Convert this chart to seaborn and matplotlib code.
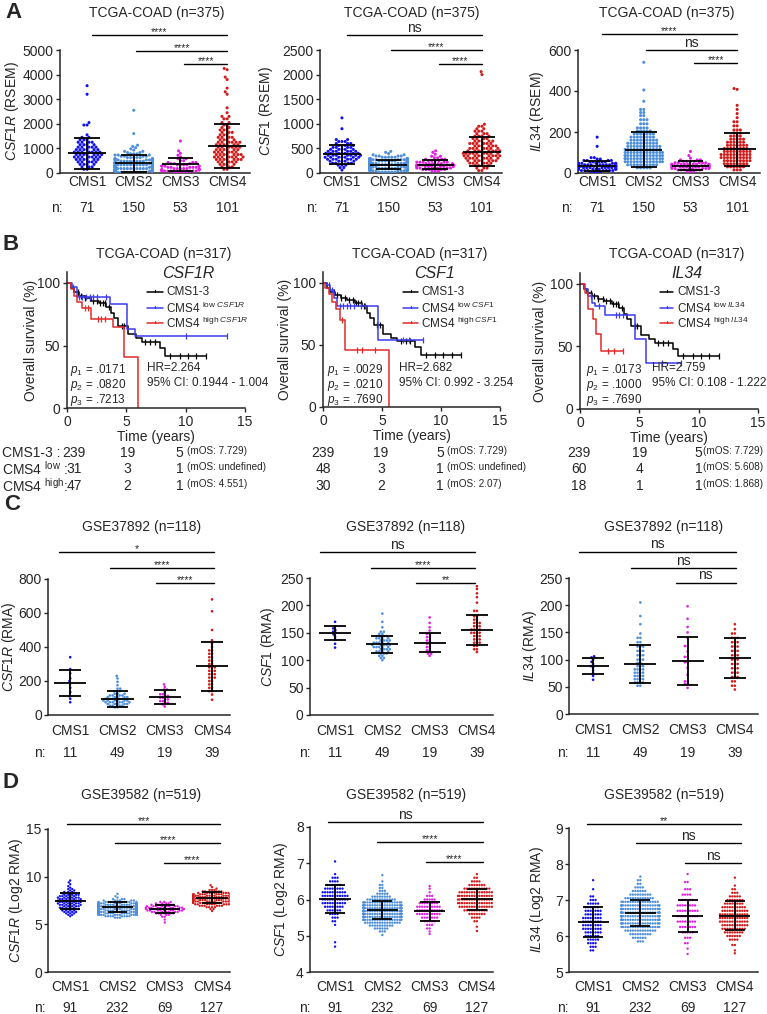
import warnings
import numpy as np
import pandas as pd
import seaborn as sns
import matplotlib.pyplot as plt
from matplotlib.transforms import blended_transform_factory

warnings.filterwarnings("ignore")

W, H = 767, 1014
groups = ["CMS1", "CMS2", "CMS3", "CMS4"]
cms_colors = ["#1010f0", "#4d8fdb", "#e01fe0", "#d11a1a"]

# ---------------------------------------------------------------------------
# Dot plot data, (value, count) pairs
# ---------------------------------------------------------------------------
# A: TCGA-COAD (RSEM)
tcga_csf1r = [
    [(150, 2), (250, 3), (350, 4), (450, 5), (550, 6), (650, 7), (750, 7), (850, 7), (950, 6), (1050, 5),
     (1150, 4), (1250, 4), (1350, 3), (1450, 2), (1550, 1), (1950, 2), (2050, 1), (3200, 1), (3550, 1)],
    [(30, 10), (80, 13), (130, 13), (180, 13), (230, 12), (280, 12), (330, 11), (380, 10), (430, 9), (480, 8),
     (530, 7), (580, 6), (630, 5), (680, 4), (730, 3), (780, 3), (830, 2), (880, 2), (930, 1), (980, 1),
     (1030, 1), (1080, 1), (1130, 1), (1600, 1), (2550, 1)],
    [(30, 5), (80, 7), (130, 6), (180, 6), (230, 5), (280, 5), (330, 4), (380, 3), (430, 3), (500, 2),
     (580, 2), (650, 1), (720, 1), (800, 1), (900, 1), (1300, 1)],
    [(150, 2), (250, 3), (350, 4), (450, 5), (550, 7), (650, 7), (750, 7), (850, 6), (950, 6), (1050, 6),
     (1150, 6), (1250, 6), (1350, 4), (1450, 4), (1550, 3), (1650, 3), (1750, 3), (1850, 2), (1950, 2),
     (2050, 2), (2200, 2), (2300, 2), (2450, 1), (2650, 1), (3200, 1), (3300, 1), (3450, 1), (3800, 1),
     (3900, 1), (4200, 1), (4250, 1)],
]
tcga_csf1r_mean = [810, 405, 350, 1105]
tcga_csf1r_sd = [630, 345, 280, 885]

tcga_csf1 = [
    [(60, 1), (110, 2), (160, 3), (200, 4), (240, 5), (280, 6), (320, 7), (360, 7), (400, 7), (440, 6),
     (480, 5), (520, 4), (560, 4), (600, 3), (640, 3), (680, 2), (900, 1), (1120, 1)],
    [(20, 6), (45, 9), (70, 11), (95, 13), (120, 14), (145, 15), (170, 15), (195, 14), (220, 12), (245, 11),
     (270, 9), (295, 7), (320, 5), (345, 4), (370, 2), (395, 1), (420, 1), (440, 1)],
    [(40, 3), (70, 5), (100, 6), (130, 7), (160, 7), (190, 6), (220, 5), (250, 4), (280, 3), (310, 2),
     (340, 2), (380, 1), (420, 1), (450, 1)],
    [(50, 2), (100, 3), (150, 4), (200, 6), (250, 7), (300, 8), (350, 9), (400, 9), (450, 8), (500, 7),
     (550, 6), (600, 6), (650, 5), (700, 4), (750, 4), (800, 3), (850, 3), (900, 2), (950, 2), (990, 1),
     (2000, 1), (2060, 1)],
]
tcga_csf1_mean = [377, 172, 170, 432]
tcga_csf1_sd = [188, 92, 95, 292]

tcga_il34 = [
    [(5, 4), (12, 7), (19, 9), (26, 10), (33, 10), (40, 9), (47, 7), (54, 5), (61, 4), (68, 2), (75, 2),
     (130, 1), (175, 1)],
    [(25, 5), (40, 10), (55, 13), (70, 14), (85, 14), (100, 13), (115, 12), (130, 11), (145, 10), (160, 9),
     (175, 8), (190, 7), (205, 5), (220, 4), (240, 3), (260, 3), (280, 2), (295, 2), (310, 2), (350, 1),
     (405, 1), (540, 1)],
    [(8, 3), (15, 5), (22, 7), (29, 8), (36, 8), (43, 7), (50, 5), (57, 4), (64, 3), (72, 1), (85, 1), (105, 1)],
    [(15, 3), (30, 6), (45, 8), (60, 9), (75, 10), (90, 10), (105, 9), (120, 8), (135, 7), (150, 6), (165, 5),
     (180, 4), (195, 3), (210, 3), (230, 2), (250, 2), (270, 1), (290, 1), (310, 1), (330, 1), (408, 1),
     (412, 1)],
]
tcga_il34_mean = [35, 113, 36, 115]
tcga_il34_sd = [25, 85, 21, 82]

# C: GSE37892 (RMA)
gse37892_csf1r = [
    [(75, 1), (95, 1), (110, 1), (135, 1), (160, 1), (185, 1), (200, 1), (215, 1), (245, 1), (270, 1), (340, 1)],
    [(45, 2), (55, 4), (65, 5), (75, 6), (85, 6), (95, 5), (105, 5), (115, 4), (125, 3), (140, 3), (155, 2),
     (175, 1), (195, 1), (215, 1), (230, 1)],
    [(50, 1), (62, 1), (72, 2), (82, 2), (92, 2), (102, 2), (112, 2), (122, 2), (135, 1), (150, 2), (165, 1),
     (180, 1)],
    [(90, 1), (120, 1), (140, 2), (160, 2), (180, 2), (200, 2), (220, 3), (240, 3), (260, 3), (280, 3),
     (300, 2), (320, 2), (340, 2), (360, 2), (380, 2), (400, 1), (420, 1), (440, 1), (500, 1), (610, 1),
     (680, 1)],
]
gse37892_csf1r_mean = [189, 96, 106, 286]
gse37892_csf1r_sd = [78, 47, 40, 144]

gse37892_csf1 = [
    [(123, 1), (130, 1), (138, 1), (143, 1), (147, 1), (150, 1), (152, 1), (155, 1), (158, 1), (162, 1),
     (170, 1)],
    [(100, 1), (104, 2), (108, 2), (112, 3), (116, 4), (120, 4), (124, 5), (128, 5), (132, 5), (136, 4),
     (140, 4), (144, 3), (148, 2), (152, 2), (160, 1), (170, 1), (185, 1)],
    [(108, 1), (112, 2), (118, 2), (124, 2), (130, 2), (136, 2), (142, 2), (148, 2), (154, 1), (160, 1),
     (168, 1), (178, 1)],
    [(115, 1), (120, 2), (126, 2), (132, 3), (138, 3), (144, 3), (150, 4), (156, 4), (162, 3), (168, 3),
     (174, 2), (180, 2), (190, 2), (205, 1), (215, 1), (222, 1), (230, 1), (235, 1)],
]
gse37892_csf1_mean = [149, 129, 132, 155]
gse37892_csf1_sd = [13, 16, 17, 27]

gse37892_il34 = [
    [(63, 1), (70, 1), (75, 1), (80, 1), (85, 1), (88, 1), (92, 1), (96, 1), (100, 1), (104, 1), (106, 1)],
    [(52, 2), (58, 4), (64, 4), (70, 4), (76, 4), (82, 4), (88, 3), (94, 2), (100, 3), (108, 3), (116, 3),
     (124, 3), (132, 2), (140, 2), (148, 1), (165, 1), (180, 1), (205, 1)],
    [(48, 1), (55, 2), (60, 2), (72, 1), (85, 1), (95, 2), (105, 2), (115, 1), (125, 2), (140, 1), (150, 1),
     (160, 1), (175, 1), (198, 1)],
    [(45, 1), (52, 2), (60, 2), (68, 3), (76, 3), (84, 3), (92, 3), (100, 3), (108, 3), (116, 3), (124, 3),
     (132, 3), (140, 3), (148, 2), (156, 1), (165, 1)],
]
gse37892_il34_mean = [88, 92, 98, 103]
gse37892_il34_sd = [15, 35, 44, 36]

# D: GSE39582 (Log2 RMA)
gse39582_csf1r = [
    [(5.85, 1), (6.0, 2), (6.15, 3), (6.3, 4), (6.45, 4), (6.6, 5), (6.75, 5), (6.9, 5), (7.05, 6), (7.2, 6),
     (7.35, 6), (7.5, 6), (7.65, 6), (7.8, 6), (7.95, 5), (8.1, 5), (8.25, 4), (8.4, 3), (8.55, 2), (8.7, 2),
     (8.85, 1), (9.0, 1), (9.2, 1), (9.4, 1), (9.6, 1)],
    [(5.7, 3), (5.85, 8), (6.0, 14), (6.15, 20), (6.3, 24), (6.45, 26), (6.6, 27), (6.75, 27), (6.9, 25),
     (7.05, 21), (7.2, 15), (7.35, 10), (7.5, 6), (7.65, 3), (7.8, 1), (7.95, 1), (8.2, 1)],
    [(5.2, 1), (5.5, 1), (5.8, 2), (6.0, 3), (6.15, 5), (6.3, 7), (6.45, 9), (6.6, 10), (6.75, 10), (6.9, 8),
     (7.05, 6), (7.2, 4), (7.35, 3)],
    [(6.4, 1), (6.6, 2), (6.8, 4), (6.95, 6), (7.1, 9), (7.25, 11), (7.4, 13), (7.55, 14), (7.7, 13),
     (7.85, 13), (8.0, 12), (8.15, 10), (8.3, 8), (8.45, 5), (8.6, 3), (8.75, 1), (8.9, 1), (9.1, 1)],
]
gse39582_csf1r_mean = [7.45, 6.8, 6.65, 7.8]
gse39582_csf1r_sd = [0.8, 0.5, 0.42, 0.58]

gse39582_csf1 = [
    [(4.7, 1), (4.82, 1), (5.3, 1), (5.4, 2), (5.5, 3), (5.6, 4), (5.7, 6), (5.8, 8), (5.9, 10), (6.0, 11),
     (6.1, 11), (6.2, 10), (6.3, 8), (6.4, 6), (6.5, 4), (6.6, 3), (6.7, 1), (7.05, 1)],
    [(5.02, 1), (5.12, 3), (5.2, 6), (5.28, 10), (5.36, 15), (5.44, 20), (5.52, 23), (5.6, 26), (5.68, 26),
     (5.76, 26), (5.84, 23), (5.92, 18), (6.0, 12), (6.08, 8), (6.16, 5), (6.24, 3), (6.32, 2), (6.4, 2),
     (6.5, 1), (6.67, 1)],
    [(5.05, 1), (5.12, 1), (5.2, 2), (5.3, 3), (5.4, 5), (5.5, 7), (5.6, 10), (5.7, 11), (5.8, 10), (5.9, 8),
     (6.0, 5), (6.1, 3), (6.2, 1), (6.3, 1), (6.37, 1)],
    [(5.13, 1), (5.25, 1), (5.4, 2), (5.5, 4), (5.6, 7), (5.7, 10), (5.8, 14), (5.9, 16), (6.0, 17), (6.1, 16),
     (6.2, 14), (6.3, 11), (6.4, 7), (6.5, 4), (6.6, 2), (6.7, 1)],
]
gse39582_csf1_mean = [6.02, 5.71, 5.68, 6.01]
gse39582_csf1_sd = [0.38, 0.26, 0.26, 0.29]

gse39582_il34 = [
    [(5.6, 2), (5.7, 3), (5.8, 4), (5.9, 5), (6.0, 6), (6.1, 7), (6.2, 8), (6.3, 8), (6.4, 8), (6.5, 8),
     (6.6, 7), (6.7, 7), (6.8, 6), (6.9, 5), (7.0, 3), (7.1, 2), (7.3, 1), (7.55, 1)],
    [(5.85, 3), (5.95, 6), (6.05, 9), (6.15, 13), (6.25, 17), (6.35, 20), (6.45, 22), (6.55, 24), (6.65, 24),
     (6.75, 22), (6.85, 20), (6.95, 16), (7.05, 12), (7.15, 9), (7.25, 6), (7.35, 4), (7.45, 2), (7.55, 2),
     (7.65, 1)],
    [(5.5, 1), (5.65, 1), (5.8, 2), (5.95, 3), (6.1, 5), (6.25, 7), (6.4, 8), (6.55, 9), (6.7, 9), (6.85, 8),
     (7.0, 6), (7.15, 4), (7.3, 3), (7.5, 2), (7.72, 1)],
    [(5.52, 1), (5.6, 1), (5.75, 2), (5.9, 4), (6.0, 6), (6.1, 8), (6.2, 10), (6.3, 11), (6.4, 12), (6.5, 12),
     (6.6, 12), (6.7, 11), (6.8, 10), (6.9, 8), (7.0, 7), (7.1, 5), (7.2, 3), (7.3, 2), (7.4, 1), (7.62, 1)],
]
gse39582_il34_mean = [6.39, 6.64, 6.56, 6.56]
gse39582_il34_sd = [0.41, 0.35, 0.44, 0.40]

n_tcga = [71, 150, 53, 101]
n_gse37892 = [11, 49, 19, 39]
n_gse39582 = [91, 232, 69, 127]

sig_tcga_csf1r = ["****", "****", "****"]
sig_tcga_csf1 = ["ns", "****", "****"]
sig_tcga_il34 = ["****", "ns", "****"]
sig_gse37892_csf1r = ["*", "****", "****"]
sig_gse37892_csf1 = ["ns", "****", "**"]
sig_gse37892_il34 = ["ns", "ns", "ns"]
sig_gse39582_csf1r = ["***", "****", "****"]
sig_gse39582_csf1 = ["ns", "****", "****"]
sig_gse39582_il34 = ["**", "ns", "ns"]

# ---------------------------------------------------------------------------
# Kaplan-Meier data (time in years, survival in %)
# ---------------------------------------------------------------------------
km_cms13_t = [0, 0.3, 0.6, 1.0, 1.5, 2.0, 2.7, 3.3, 3.7, 4.0, 4.3, 5.1, 5.8, 6.3, 7.8, 8.3, 11.7]
km_cms13_s = [100, 96, 93, 90, 88, 86, 84, 81, 76, 72, 66, 59, 56, 53, 48, 42, 42]
km_cms13_cens = [0.9, 1.2, 1.5, 1.9, 2.2, 2.5, 2.8, 3.0, 3.2, 3.5, 4.6, 4.8, 6.6, 7.0, 7.4, 8.7, 9.5,
                 10.2, 10.9, 11.7]

km_csf1r_low_t = [0, 0.4, 0.85, 3.6, 5.05, 5.75, 13.5]
km_csf1r_low_s = [100, 97, 89, 83, 63, 58, 58]
km_csf1r_low_cens = [0.5, 1.0, 1.3, 1.6, 1.9, 2.2, 2.5, 3.3, 10.0, 13.5]
km_csf1r_high_t = [0, 0.3, 0.55, 0.85, 1.3, 2.0, 3.9, 4.8, 6.0]
km_csf1r_high_s = [100, 95, 90, 85, 80, 71, 65, 41, 0]
km_csf1r_high_cens = [1.5, 1.8, 2.6, 2.9, 3.2]

km_csf1_low_t = [0, 0.3, 0.6, 0.9, 1.2, 4.7, 8.5]
km_csf1_low_s = [100, 98, 94, 88, 81, 54, 54]
km_csf1_low_cens = [0.5, 0.8, 1.4, 1.7, 2.0, 2.3, 2.6, 3.2, 3.6, 6.8, 7.3, 8.5]
km_csf1_high_t = [0, 0.2, 0.5, 0.8, 1.1, 1.4, 1.9, 5.6]
km_csf1_high_s = [100, 96, 91, 85, 79, 70, 46, 0]
km_csf1_high_cens = [1.6, 2.9, 3.3, 4.4]

km_il34_low_t = [0, 0.3, 0.7, 1.0, 1.3, 2.1, 4.6, 5.6, 8.55]
km_il34_low_s = [100, 96, 90, 85, 82, 75, 56, 37, 37]
km_il34_low_cens = [0.9, 1.6, 3.0, 3.3, 3.6, 6.9, 8.55]
km_il34_high_t = [0, 0.4, 0.7, 1.1, 1.35, 1.8, 3.65]
km_il34_high_s = [100, 93, 80, 72, 60, 46, 46]
km_il34_high_cens = [2.4, 2.9, 3.65]

risk_csf1r = [[239, 19, 5], [31, 3, 1], [47, 2, 1]]
risk_csf1 = [[239, 19, 5], [48, 3, 1], [30, 2, 1]]
risk_il34 = [[239, 19, 5], [60, 4, 1], [18, 1, 1]]
mos_csf1r = ["(mOS: 7.729)", "(mOS: undefined)", "(mOS: 4.551)"]
mos_csf1 = ["(mOS: 7.729)", "(mOS: undefined)", "(mOS: 2.07)"]
mos_il34 = ["(mOS: 7.729)", "(mOS: 5.608)", "(mOS: 1.868)"]
pvals_csf1r = [".0171", ".0820", ".7213"]
pvals_csf1 = [".0029", ".0210", ".7690"]
pvals_il34 = [".0173", ".1000", ".7690"]
hr_csf1r, ci_csf1r = "2.264", "0.1944 - 1.004"
hr_csf1, ci_csf1 = "2.682", "0.992 - 3.254"
hr_il34, ci_il34 = "2.759", "0.108 - 1.222"

km_colors = ["black", "#3a3af0", "#e02a2a"]

# ---------------------------------------------------------------------------
sns.set_style("ticks")
plt.rcParams["font.family"] = ["Liberation Sans", "DejaVu Sans"]
plt.rcParams["mathtext.fontset"] = "custom"
plt.rcParams["mathtext.rm"] = "Liberation Sans"
plt.rcParams["mathtext.it"] = "Liberation Sans:italic"
plt.rcParams["mathtext.bf"] = "Liberation Sans:bold"
plt.rcParams["axes.linewidth"] = 1.1

fig = plt.figure(figsize=(W / 100, H / 100), dpi=100)
FS = 10


def fx(px):
    return px / W


def fy(py):
    return 1 - py / H


def add_ax(x0, x1, y0, y1):
    return fig.add_axes([x0 / W, 1 - y1 / H, (x1 - x0) / W, (y1 - y0) / H])


def place_ylabel(ax, rect, px):
    # centre the rotated y label on a given pixel column
    ax.yaxis.set_label_coords((px - rect[0]) / (rect[1] - rect[0]), 0.5)
    ax.yaxis.label.set_verticalalignment("center")


def expand(pairs):
    return np.repeat([v for v, c in pairs], [c for v, c in pairs])


def dot_panel(rect, xlim, ylim, yticks, data, means, sds, ylabel, ylab_px, title, rows_y, br_y, br_x0,
              br_x1, labels, ns, dot, mw, cw, pad):
    ax = add_ax(*rect)
    df = pd.concat([pd.DataFrame({"group": g, "value": expand(p)}) for g, p in zip(groups, data)],
                   ignore_index=True)
    sns.swarmplot(data=df, x="group", y="value", hue="group", order=groups, hue_order=groups,
                  palette=cms_colors, size=dot, linewidth=0, legend=False, ax=ax, warn_thresh=1)
    x = np.arange(4)
    m, s = np.array(means, float), np.array(sds, float)
    kw = dict(color="black", lw=1.3, zorder=5)
    ax.hlines(m, x - mw / 2, x + mw / 2, **kw)
    ax.vlines(x, m - s, m + s, **kw)
    ax.hlines(m + s, x - cw / 2, x + cw / 2, **kw)
    ax.hlines(m - s, x - cw / 2, x + cw / 2, **kw)
    ax.set_xlim(xlim)
    ax.set_ylim(ylim)
    ax.set_yticks(yticks)
    ax.set_xlabel("")
    ax.set_ylabel(ylabel, fontsize=FS)
    place_ylabel(ax, rect, ylab_px)
    sns.despine(ax=ax)
    ax.spines["left"].set_bounds(ylim[0], ylim[1])
    ax.tick_params(axis="y", length=3, width=1, labelsize=FS, pad=1.5)
    ax.tick_params(axis="x", length=0, labelsize=FS, pad=pad)

    tr = blended_transform_factory(ax.transData, fig.transFigure)
    title_y, n_y = rows_y
    ax.text(1.5, fy(title_y), title, transform=tr, ha="center", va="center", fontsize=FS)
    ax.text(-0.65, fy(n_y), "n:", transform=tr, ha="center", va="center", fontsize=FS)
    for i, n in enumerate(ns):
        ax.text(i, fy(n_y), str(n), transform=tr, ha="center", va="center", fontsize=FS)

    for yb, xb, lab in zip(br_y, br_x0, labels):
        ax.plot([xb, br_x1], [yb, yb], color="black", lw=1.0, clip_on=False)
        star = lab != "ns"
        ax.annotate(lab, xy=((xb + br_x1) / 2, yb), xytext=(0, -1.5 if star else 0.3),
                    textcoords="offset points", ha="center", va="bottom",
                    fontsize=7.5 if star else 10, annotation_clip=False)
    return ax


def surv_at(t, s, tc):
    idx = np.searchsorted(np.array(t), np.array(tc), side="right") - 1
    return np.array(s)[idx]


def km_panel(rect, curves, gene, pvals, hr, ci, risk, risk_t, mos, mos_t, title_x, gene_x,
             leg_px, p_x, hr_x, ylab_px, row_labels):
    ax = add_ax(*rect)
    for (t, s, c), col in zip(curves, km_colors):
        sns.lineplot(x=t, y=s, drawstyle="steps-post", estimator=None, sort=False, color=col,
                     lw=1.1, ax=ax)
        ax.plot(c, surv_at(t, s, c), ls="none", marker="|", ms=4, mew=0.9, color=col)
    ax.set_xlim(0, 15)
    ax.set_ylim(0, 108.8)
    ax.set_xticks([0, 5, 10, 15])
    ax.set_yticks([0, 50, 100])
    sns.despine(ax=ax)
    ax.tick_params(length=3, width=1, labelsize=FS, pad=1.8)
    ax.set_xlabel("Time (years)", fontsize=FS, labelpad=1)
    ax.set_ylabel("Overall survival (%)", fontsize=FS)
    place_ylabel(ax, rect, ylab_px)

    fig.text(fx(title_x), fy(254), "TCGA-COAD (n=317)", ha="center", va="center", fontsize=FS)
    fig.text(fx(gene_x), fy(274), gene, ha="center", va="center", fontsize=11.5, style="italic")

    x0, x1, xt = leg_px
    leg_labels = ["CMS1-3", r"CMS4 $^{\mathrm{low}\ \mathit{%s}}$" % gene,
                  r"CMS4 $^{\mathrm{high}\ \mathit{%s}}$" % gene]
    for yy, lab, col in zip([292, 308, 323], leg_labels, km_colors):
        fig.add_artist(plt.Line2D([fx(x0), fx(x1)], [fy(yy), fy(yy)], color=col, lw=1.1))
        fig.add_artist(plt.Line2D([fx((x0 + x1) / 2)] * 2, [fy(yy - 2.5), fy(yy)], color=col, lw=0.9))
        fig.text(fx(xt), fy(yy), lab, ha="left", va="center", fontsize=8.5)

    for k, (yy, pv) in enumerate(zip([370, 385, 400], pvals)):
        fig.text(fx(p_x), fy(yy), r"$\mathit{p}_{%d}$ = %s" % (k + 1, pv), ha="left", va="center",
                 fontsize=8.5)
    fig.text(fx(hr_x), fy(368), "HR=" + hr, ha="left", va="center", fontsize=8.5)
    fig.text(fx(hr_x), fy(383), "95% CI: " + ci, ha="left", va="center", fontsize=8.5)

    tr = blended_transform_factory(ax.transData, fig.transFigure)
    names = ["CMS1-3 :", r"CMS4 $^{\mathrm{low}}$ :", r"CMS4 $^{\mathrm{high}}$:"]
    for r, yy in enumerate([453, 469, 486]):
        for v, tt in zip(risk[r], risk_t):
            ax.text(tt, fy(yy), str(v), transform=tr, ha="center", va="center", fontsize=FS)
        ax.text(mos_t, fy(yy - 1.5), mos[r], transform=tr, ha="left", va="center", fontsize=7.2)
        if row_labels:
            fig.text(fx(2), fy(yy), names[r], ha="left", va="center", fontsize=FS)
    return ax


# ---------------------------- Row A ----------------------------
xlA = [(-0.58, 3.49), (-0.47, 3.43), (-0.41, 3.49)]
dot_panel((60, 250, 50, 173), xlA[0], (0, 5000), range(0, 5001, 1000), tcga_csf1r, tcga_csf1r_mean,
          tcga_csf1r_sd, r"$\mathit{CSF1R}$ (RSEM)", 12, "TCGA-COAD (n=375)", (13, 208),
          [5610, 4960, 4430], [0.1, 1.05, 2.08], 3.0, sig_tcga_csf1r, n_tcga, 2.2, 0.8, 0.55, 1.5)
dot_panel((320, 502, 50, 173), xlA[1], (0, 2500), range(0, 2501, 500), tcga_csf1, tcga_csf1_mean,
          tcga_csf1_sd, r"$\mathit{CSF1}$ (RSEM)", 266, "TCGA-COAD (n=375)", (13, 208),
          [2805, 2500, 2215], [0.1, 1.05, 2.08], 3.0, sig_tcga_csf1, n_tcga, 2.2, 0.8, 0.55, 1.5)
dot_panel((578, 760, 50, 173), xlA[2], (0, 600), range(0, 601, 200), tcga_il34, tcga_il34_mean,
          tcga_il34_sd, r"$\mathit{IL34}$ (RSEM)", 537, "TCGA-COAD (n=375)", (13, 208),
          [678, 600, 537], [0.1, 1.05, 2.08], 3.0, sig_tcga_il34, n_tcga, 2.2, 0.8, 0.55, 1.5)

# ---------------------------- Row B ----------------------------
km_panel((67, 245, 272, 408),
         [(km_cms13_t, km_cms13_s, km_cms13_cens),
          (km_csf1r_low_t, km_csf1r_low_s, km_csf1r_low_cens),
          (km_csf1r_high_t, km_csf1r_high_s, km_csf1r_high_cens)],
         "CSF1R", pvals_csf1r, hr_csf1r, ci_csf1r, risk_csf1r, [0.6, 5.1, 9.5], mos_csf1r, 10.1,
         164, 188, (147, 163, 166), 70, 147, 31, True)
km_panel((323, 500, 272, 407),
         [(km_cms13_t, km_cms13_s, km_cms13_cens),
          (km_csf1_low_t, km_csf1_low_s, km_csf1_low_cens),
          (km_csf1_high_t, km_csf1_high_s, km_csf1_high_cens)],
         "CSF1", pvals_csf1, hr_csf1, ci_csf1, risk_csf1, [0.0, 4.9, 9.9], mos_csf1, 10.5,
         420, 434, (403, 418, 421), 327, 399, 285, False)
km_panel((580, 758, 273, 409),
         [(km_cms13_t, km_cms13_s, km_cms13_cens),
          (km_il34_low_t, km_il34_low_s, km_il34_low_cens),
          (km_il34_high_t, km_il34_high_s, km_il34_high_cens)],
         "IL34", pvals_il34, hr_il34, ci_il34, risk_il34, [-0.1, 5.0, 10.0], mos_il34, 10.4,
         677, 687, (660, 673, 677), 586, 652, 540, False)

# ---------------------------- Row C ----------------------------
xlC = [(-0.47, 3.38), (-0.53, 3.34), (-0.51, 3.49)]
dot_panel((48, 230, 579, 715), xlC[0], (0, 800), range(0, 801, 200), gse37892_csf1r, gse37892_csf1r_mean,
          gse37892_csf1r_sd, r"$\mathit{CSF1R}$ (RMA)", 9, "GSE37892 (n=118)", (527, 753),
          [959, 865, 776], [-0.23, 0.85, 1.82], 3.05, sig_gse37892_csf1r, n_gse37892, 1.9, 0.68, 0.46, 6.5)
dot_panel((310, 493, 578, 715), xlC[1], (0, 250), range(0, 251, 50), gse37892_csf1, gse37892_csf1_mean,
          gse37892_csf1_sd, r"$\mathit{CSF1}$ (RMA)", 268, "GSE37892 (n=118)", (527, 753),
          [297, 268, 241], [-0.32, 0.76, 1.71], 2.96, sig_gse37892_csf1, n_gse37892, 1.9, 0.68, 0.46, 6.5)
dot_panel((569, 758, 578, 714), xlC[2], (0, 250), range(0, 251, 50), gse37892_il34, gse37892_il34_mean,
          gse37892_il34_sd, r"$\mathit{IL34}$ (RMA)", 530, "GSE37892 (n=118)", (527, 753),
          [298, 268, 241], [-0.3, 0.8, 1.75], 3.02, sig_gse37892_il34, n_gse37892, 1.9, 0.68, 0.46, 6.5)

# ---------------------------- Row D ----------------------------
dot_panel((48, 230, 829, 972), xlC[0], (0, 15), [0, 5, 10, 15], gse39582_csf1r, gse39582_csf1r_mean,
          gse39582_csf1r_sd, r"$\mathit{CSF1R}$ (Log2 RMA)", 16, "GSE39582 (n=519)", (795, 1008),
          [15.52, 13.53, 11.43], [-0.06, 0.95, 1.99], 3.17, sig_gse39582_csf1r, n_gse39582,
          1.7, 0.66, 0.42, 5.8)
dot_panel((310, 493, 827, 972), xlC[1], (4, 8), [4, 5, 6, 7, 8], gse39582_csf1, gse39582_csf1_mean,
          gse39582_csf1_sd, r"$\mathit{CSF1}$ (Log2 RMA)", 281, "GSE39582 (n=519)", (795, 1008),
          [8.14, 7.59, 7.03], [-0.15, 0.89, 1.92], 3.13, sig_gse39582_csf1, n_gse39582,
          1.7, 0.66, 0.42, 5.8)
dot_panel((569, 758, 828, 972), xlC[2], (5, 9), [5, 6, 7, 8, 9], gse39582_il34, gse39582_il34_mean,
          gse39582_il34_sd, r"$\mathit{IL34}$ (Log2 RMA)", 537, "GSE39582 (n=519)", (795, 1008),
          [9.11, 8.58, 8.03], [-0.13, 0.91, 1.95], 3.13, sig_gse39582_il34, n_gse39582,
          1.7, 0.66, 0.42, 5.8)

# panel letters
for lab, (px, py) in zip("ABCD", [(14, 13), (11, 244), (12, 505), (11, 782)]):
    fig.text(fx(px), fy(py), lab, ha="center", va="center", fontsize=16, fontweight="bold")

fig.savefig("out.png", dpi=100)
